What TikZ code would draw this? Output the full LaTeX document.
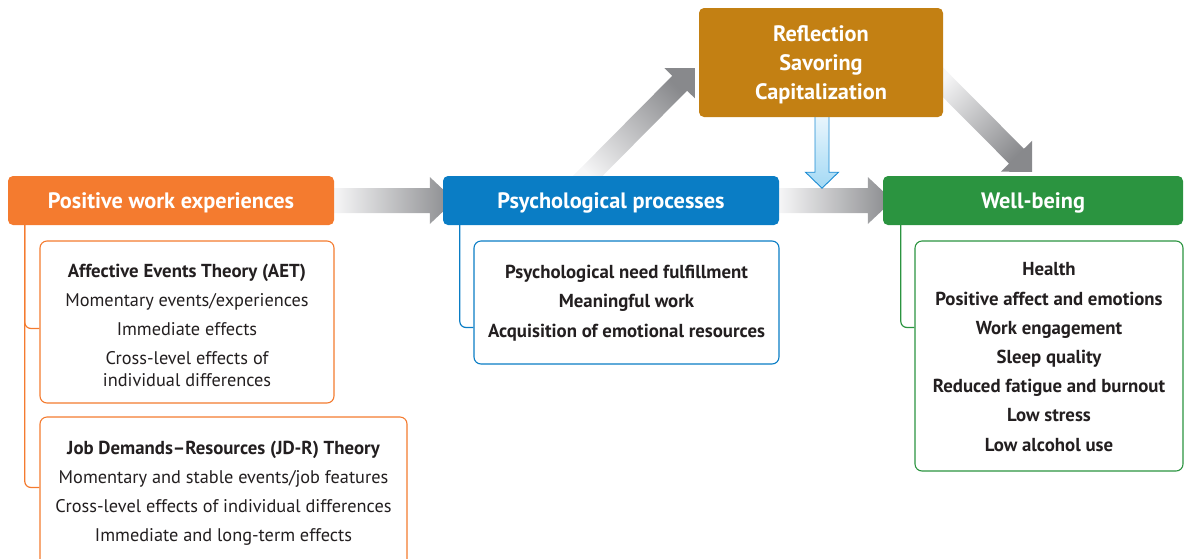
\documentclass[tikz,border=0pt]{standalone}
\usepackage{fontspec}
\setmainfont{PT Sans}
\usetikzlibrary{calc,backgrounds}

\definecolor{pweorange}{HTML}{F47B2F}
\definecolor{ppblue}{HTML}{0A7DC5}
\definecolor{wbgreen}{HTML}{2B9440}
\definecolor{refbrown}{HTML}{C38013}
\definecolor{ink}{HTML}{231F20}
\definecolor{arrowdark}{HTML}{88898C}
\definecolor{arrowlight}{HTML}{F6F6F7}
\definecolor{downtop}{HTML}{EAF6FD}
\definecolor{downbot}{HTML}{A3D9F4}
\definecolor{downline}{HTML}{1B8BD3}

% block arrow: #1 options, #2 start, #3 tip, #4 shaft half width,
% #5 head half width, #6 head length
\newcommand{\fatarrow}[6]{%
  \coordinate (fa-base) at ($(#3)!#6!(#2)$);
  \path[#1] ($(#2)!#4!90:(#3)$) -- ($(fa-base)!#4!90:(#3)$)
    -- ($(fa-base)!#5!90:(#3)$) -- (#3) -- ($(fa-base)!#5!-90:(#3)$)
    -- ($(fa-base)!#4!-90:(#3)$) -- ($(#2)!#4!-90:(#3)$) -- cycle;
}
\newcommand{\boldline}{\bfseries\fontsize{18.8}{29}\selectfont}

\tikzset{
  header/.style={rounded corners=5pt, inner sep=0pt, text=white,
    font=\bfseries\fontsize{22.3}{29.2}\selectfont, align=center,
    text height=16pt, text depth=1pt},
  headtext/.style={inner sep=0pt, text=white, align=center,
    font=\bfseries\fontsize{22.3}{29.2}\selectfont},
  subbox/.style={draw, line width=1.1pt, rounded corners=7pt, fill=white,
    inner sep=0pt},
  boxtext/.style={inner sep=0pt, text=ink, align=center,
    font=\fontsize{18.3}{29}\selectfont},
  boldtext/.style={boxtext, font=\bfseries\fontsize{18.8}{29.2}\selectfont},
  bracket/.style={line width=1.2pt, rounded corners=6pt},
}

\begin{document}
\begin{tikzpicture}[x=1pt, y=-1pt]
\useasboundingbox (0,0) rectangle (1186,558);

% stage headers
\node[header, fill=pweorange, minimum width=326pt, minimum height=49pt]
  (pwe) at (171,200.5) {Positive work experiences};
\node[header, fill=ppblue, minimum width=336pt, minimum height=49pt]
  (pp) at (611,200.5) {Psychological processes};
\node[header, fill=wbgreen, minimum width=300pt, minimum height=49pt]
  (wb) at (1033,200.5) {Well-being};
\node[rounded corners=5pt, fill=refbrown, minimum width=244pt, minimum height=109pt,
  inner sep=0pt] (ref) at (821,62.5) {};
\node[headtext] (reftext) at ($(ref.center)+(0,2)$) {Reflection\\Savoring\\Capitalization};

% detail boxes
\node[subbox, draw=pweorange, minimum width=294pt, minimum height=162pt]
  (aet) at (187,322) {};
\node[boxtext] (aettext) at ($(aet.center)+(0,3)$) {{\boldline Affective Events Theory (AET)}\\
  Momentary events/experiences\\ Immediate effects\\
  Cross-level effects of\\[-7pt] individual differences};
\node[subbox, draw=pweorange, minimum width=367pt, minimum height=149pt]
  (jdr) at (223.5,491.5) {};
\node[boxtext] (jdrtext) at ($(jdr.center)+(0,2)$) {{\boldline Job Demands–Resources (JD-R) Theory}\\
  Momentary and stable events/job features\\
  Cross-level effects of individual differences\\
  Immediate and long-term effects};
\node[subbox, draw=ppblue, minimum width=305pt, minimum height=123pt]
  (ppsub) at (626.5,302.5) {};
\node[boldtext] (pptext) at ($(ppsub.center)+(0,0.5)$) {Psychological need fulfillment\\ Meaningful work\\
  Acquisition of emotional resources};
\node[subbox, draw=wbgreen, minimum width=268pt, minimum height=230pt]
  (wbsub) at (1049,356) {};
\node[boldtext] (wbtext) at ($(wbsub.center)+(0,1)$) {Health\\ Positive affect and emotions\\ Work engagement\\
  Sleep quality\\ Reduced fatigue and burnout\\ Low stress\\ Low alcohol use};

% brackets from headers to detail boxes
\draw[bracket, pweorange] ($(pwe.south west)+(17,0)$) |- ($(aet.north west)+(0,88)$);
\draw[bracket, pweorange] ($(pwe.south west)+(17,0)$) |- ($(jdr.north west)+(0,71)$);
\draw[bracket, ppblue] ($(pp.south west)+(17,0)$) |- ($(ppsub.north west)+(0,87)$);
\draw[bracket, wbgreen] ($(wb.south west)+(18,0)$) |- ($(wbsub.north west)+(0,87)$);

% block arrows behind the headers
\begin{pgfonlayer}{background}
  \coordinate (a1s) at (pwe.east);
  \coordinate (a1t) at ($(pp.west)+(12,0)$);
  \fatarrow{left color=arrowlight, right color=arrowdark}{a1s}{a1t}{12.5pt}{23.5pt}{25pt}
  \coordinate (a2s) at (pp.east);
  \coordinate (a2t) at ($(wb.west)+(10,0)$);
  \fatarrow{left color=arrowlight, right color=arrowdark}{a2s}{a2t}{12.5pt}{23.5pt}{25pt}
  \coordinate (a3s) at ($(pp.north)+(-33,10)$);
  \coordinate (a3t) at ($(ref.west)+(-4,5.5)$);
  \fatarrow{bottom color=arrowlight, top color=arrowdark, shading angle=-45}{a3s}{a3t}{10.5pt}{21.5pt}{21.5pt}
  \coordinate (a4s) at ($(ref.east)+(-10,10)$);
  \coordinate (a4t) at ($(wb.north)+(-1,-4)$);
  \fatarrow{top color=arrowlight, bottom color=arrowdark, shading angle=45}{a4s}{a4t}{10.5pt}{22pt}{22pt}
  \coordinate (a5s) at ($(ref.south)+(1,-2)$);
  \coordinate (a5t) at ($(ref.south)+(1,71)$);
  \fatarrow{top color=downtop, bottom color=downbot, draw=downline, line width=0.9pt}{a5s}{a5t}{7pt}{16.5pt}{16pt}
\end{pgfonlayer}
\end{tikzpicture}
\end{document}
